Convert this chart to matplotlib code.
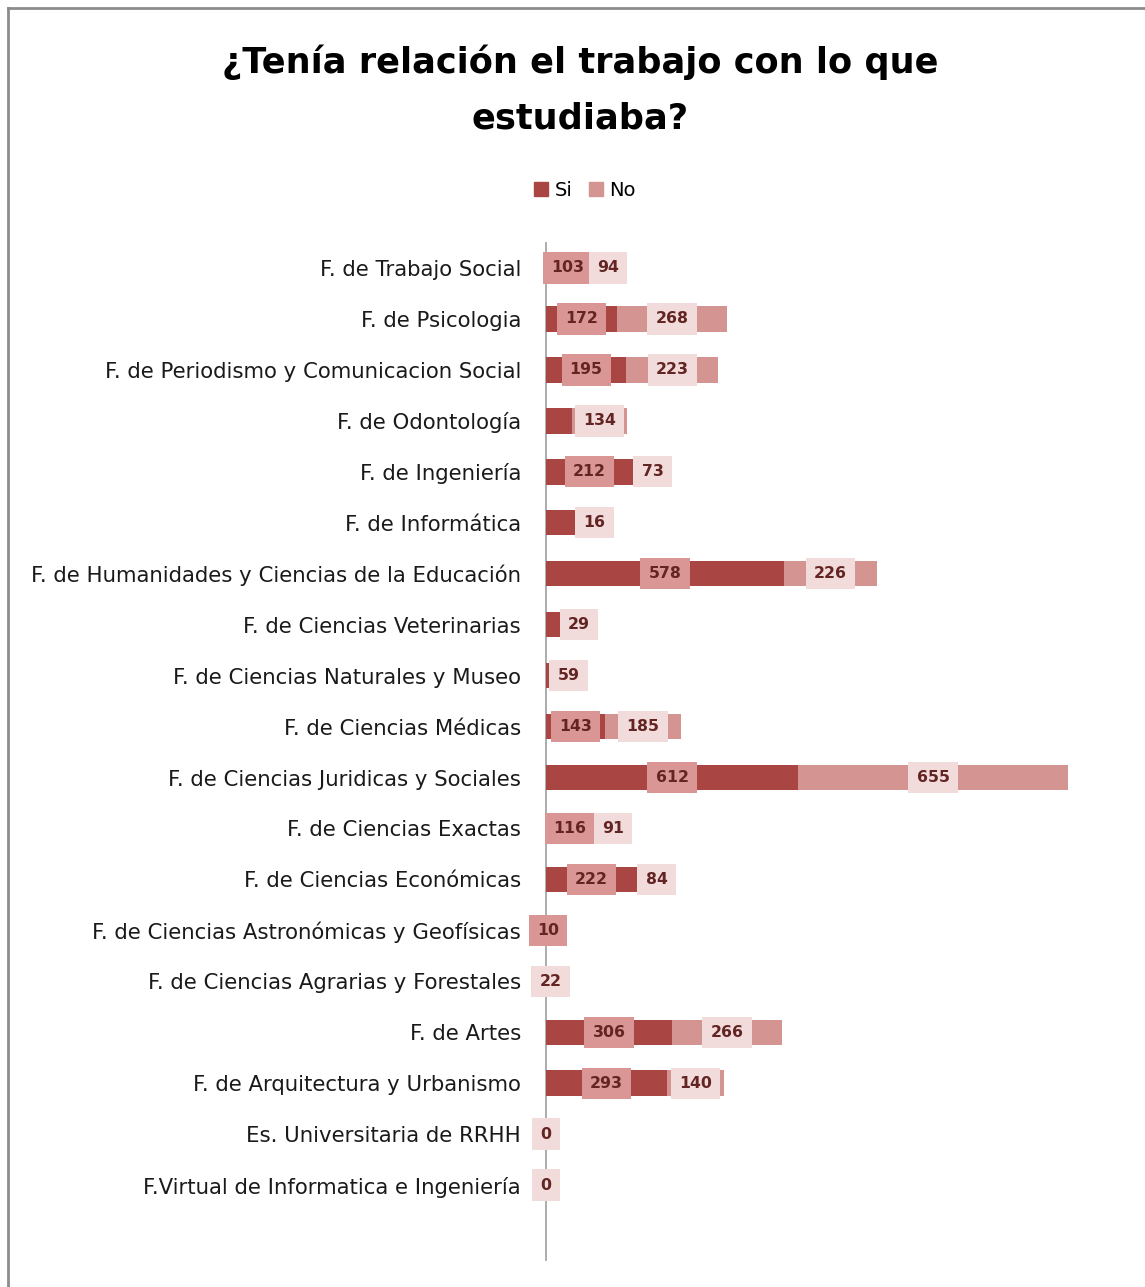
import numpy as np
import matplotlib
matplotlib.use("Agg")
import matplotlib.pyplot as plt
import matplotlib.patches as mpatches

# data, top to bottom as in the chart
categorias = [
    "F. de Trabajo Social",
    "F. de Psicologia",
    "F. de Periodismo y Comunicacion Social",
    "F. de Odontología",
    "F. de Ingeniería",
    "F. de Informática",
    "F. de Humanidades y Ciencias de la Educación",
    "F. de Ciencias Veterinarias",
    "F. de Ciencias Naturales y Museo",
    "F. de Ciencias Médicas",
    "F. de Ciencias Juridicas y Sociales",
    "F. de Ciencias Exactas",
    "F. de Ciencias Económicas",
    "F. de Ciencias Astronómicas y Geofísicas",
    "F. de Ciencias Agrarias y Forestales",
    "F. de Artes",
    "F. de Arquitectura y Urbanismo",
    "Es. Universitaria de RRHH",
    "F.Virtual de Informatica e Ingeniería",
]
si = [103, 172, 195, 63, 212, 71, 578, 34, 8, 143, 612, 116, 222, 10, 0, 306, 293, 0, 0]
no = [94, 268, 223, 134, 73, 16, 226, 29, 59, 185, 655, 91, 84, 0, 22, 266, 140, 0, 0]
# which data labels are visible in the original
si_visible = [1, 1, 1, 0, 1, 0, 1, 0, 0, 1, 1, 1, 1, 1, 0, 1, 1, 0, 0]
no_visible = [1, 1, 1, 1, 1, 1, 1, 1, 1, 1, 1, 1, 1, 0, 1, 1, 1, 1, 1]

c_si = "#A94644"
c_no = "#D49492"
c_si_lab = "#DA9694"
c_no_lab = "#F2DCDB"
c_txt = "#632523"

W, H = 1145, 1287
fig = plt.figure(figsize=(W / 100, H / 100), dpi=100)

px_per_unit = 0.412
ax_left, ax_right, ax_top, ax_bot = 546, 1100, 243, 1260
ax = fig.add_axes([ax_left / W, 1 - ax_bot / H, (ax_right - ax_left) / W, (ax_bot - ax_top) / H])

y = np.arange(len(categorias))
si = np.array(si)
no = np.array(no)
ax.barh(y, si, height=0.5, color=c_si, zorder=2)
ax.barh(y, no, left=si, height=0.5, color=c_no, zorder=2)

ax.set_xlim(0, (ax_right - ax_left) / px_per_unit)
row_px = 50.95
ax.set_ylim((ax_bot - 268) / row_px, -(268 - ax_top) / row_px)

ax.set_yticks(y)
ax.set_yticklabels(categorias, fontsize=15.3, color="#1a1a1a")
ax.tick_params(axis="y", length=0, pad=18)
ax.set_xticks([])
for s in ["top", "right", "bottom"]:
    ax.spines[s].set_visible(False)
ax.spines["left"].set_color("#A6A6A6")
ax.spines["left"].set_linewidth(1.3)
ax.spines["left"].set_zorder(1)

lab_kw = dict(ha="center", va="center", fontsize=11.3, fontweight="bold", color=c_txt)

for i in range(len(categorias)):
    if si_visible[i]:
        ax.text(si[i] / 2, i, str(si[i]), zorder=4,
                bbox=dict(boxstyle="square,pad=0.52", fc=c_si_lab, ec="none"), **lab_kw)

no_texts = []
for i in range(len(categorias)):
    if no_visible[i]:
        t = ax.text(si[i] + no[i] / 2, i, str(no[i]), zorder=5,
                    bbox=dict(boxstyle="square,pad=0.52", fc=c_no_lab, ec="none"), **lab_kw)
        no_texts.append((i, t))

# push "No" labels right so the box does not cover the end of the "Si" bar
fig.canvas.draw()
r = fig.canvas.get_renderer()
for i, t in no_texts:
    if si[i] <= 0:
        continue
    bb = t.get_bbox_patch().get_window_extent(r)
    start_px = ax.transData.transform((si[i], i))[0]
    if bb.x0 < start_px:
        shift = (start_px - bb.x0) / px_per_unit
        t.set_x(t.get_position()[0] + shift)

fig.text(580 / W, 1 - 90 / H, "¿Tenía relación el trabajo con lo que\nestudiaba?",
         ha="center", va="center", fontsize=25.3, fontweight="bold", linespacing=1.8)

handles = [mpatches.Patch(color=c_si, label="Si"), mpatches.Patch(color=c_no, label="No")]
fig.legend(handles=handles, loc="center", bbox_to_anchor=(585 / W, 1 - 190 / H), ncol=2,
           frameon=False, fontsize=14, handlelength=0.7, handleheight=0.7,
           handletextpad=0.35, columnspacing=0.85)

# chart border (open to the right and bottom like the screenshot)
fig.add_artist(plt.Line2D([8 / W, 8 / W], [0, 1 - 8 / H], transform=fig.transFigure,
                          color="#8C8C8C", lw=2))
fig.add_artist(plt.Line2D([8 / W, 1], [1 - 8 / H, 1 - 8 / H], transform=fig.transFigure,
                          color="#8C8C8C", lw=2))

fig.savefig("out.png", dpi=100)
